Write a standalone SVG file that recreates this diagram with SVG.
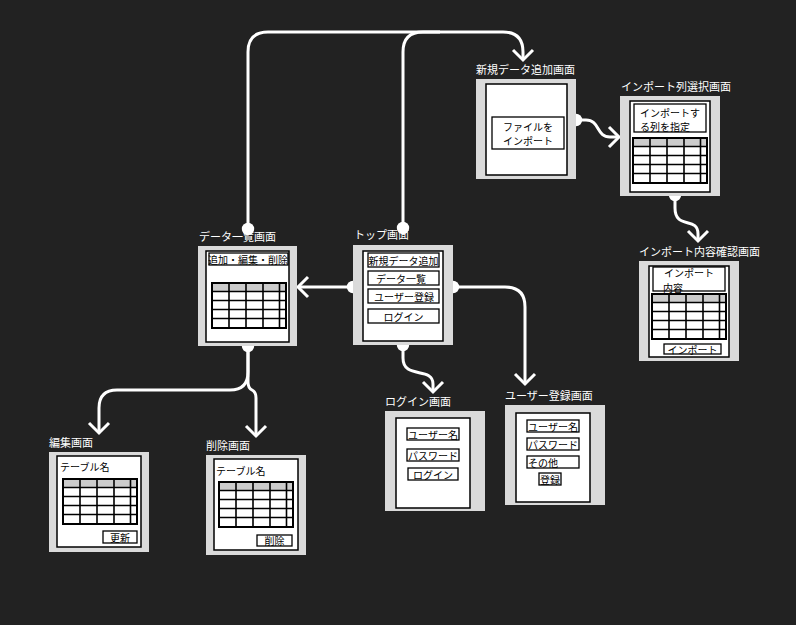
<svg xmlns="http://www.w3.org/2000/svg" width="796" height="625" viewBox="0 0 796 625">
<defs>
<style>
.bg{fill:#222222}
.outer{fill:#dadada}
.inner{fill:#ffffff;stroke:#000;stroke-width:1.5}
.btn{fill:#ffffff;stroke:#000;stroke-width:1.3}
.lbl{fill:#ffffff;font-family:"Noto Sans CJK JP","Noto Sans",sans-serif;font-size:11px;dominant-baseline:central}
.t{fill:#000;font-family:"Noto Sans CJK JP","Noto Sans",sans-serif;font-size:10px;dominant-baseline:central}
.c{text-anchor:middle}
.conn{fill:none;stroke:#ffffff;stroke-width:3;stroke-linejoin:round}
.dot{fill:#ffffff}
.hd{fill:#cccccc}
.grid{fill:none;stroke:#000;stroke-width:1.6}
</style>
<marker id="arr" markerUnits="userSpaceOnUse" markerWidth="30" markerHeight="30" viewBox="-15 -15 30 30" refX="0" refY="0" orient="auto">
<path d="M-10,-10 L0,0 L-10,10" fill="none" stroke="#ffffff" stroke-width="3" stroke-linejoin="miter"/>
</marker>
<g id="table">
<rect x="0" y="0" width="74" height="45" fill="#ffffff"/>
<rect x="0" y="0" width="74" height="8.5" class="hd"/>
<path class="grid" d="M0,8.5H74M0,17.5H74M0,26.5H74M0,35.5H74M17,0V45M34,0V45M51,0V45M67.5,0V45"/>
<rect x="0" y="0" width="74" height="45" fill="none" stroke="#000" stroke-width="2"/>
</g>
</defs>
<rect class="bg" x="0" y="0" width="796" height="625"/>

<g id="connectors">
<path class="conn" d="M248,228 V52 Q248,32 268,32 H503 Q523,32 523,52 V60" marker-end="url(#arr)"/>
<path class="conn" d="M403,228 V52 Q403,32 423,32 H440"/>
<path class="conn" d="M353,287 H298" marker-end="url(#arr)"/>
<path class="conn" d="M403,345 V358 C403,380 433,366 433,384 V392" marker-end="url(#arr)"/>
<path class="conn" d="M453,287 H505 Q525,287 525,307 V384" marker-end="url(#arr)"/>
<path class="conn" d="M576,120 H586 C600,120 596,137 610,137 H619" marker-end="url(#arr)"/>
<path class="conn" d="M675,195 V208 C675,230 698,216 698,234 V241" marker-end="url(#arr)"/>
<path class="conn" d="M248,346 V372 Q248,390 230,390 H117 Q99,390 99,408 V433" marker-end="url(#arr)"/>
<path class="conn" d="M248,346 V382 Q248,388 252,390 Q256,392 256,398 V436" marker-end="url(#arr)"/>
<circle class="dot" cx="248" cy="229" r="6.2"/>
<circle class="dot" cx="403" cy="228" r="6.2"/>
<circle class="dot" cx="353" cy="287" r="6.2"/>
<circle class="dot" cx="453" cy="287" r="6.2"/>
<circle class="dot" cx="403" cy="345" r="6.2"/>
<circle class="dot" cx="248" cy="346" r="6.2"/>
<circle class="dot" cx="576" cy="120" r="6.2"/>
<circle class="dot" cx="675" cy="195" r="6.2"/>
</g>

<g id="top-screen">
<text class="lbl" x="354" y="234">トップ画面</text>
<rect class="outer" x="353" y="245" width="100" height="100"/>
<rect class="inner" x="363" y="251" width="80" height="90"/>
<rect class="btn" x="368" y="253" width="71" height="14"/>
<text class="t c" x="403.5" y="260">新規データ追加</text>
<rect class="btn" x="368" y="271" width="71" height="14"/>
<text class="t c" x="401" y="278">データ一覧</text>
<rect class="btn" x="368" y="289" width="71" height="14"/>
<text class="t c" x="404" y="296">ユーザー登録</text>
<rect class="btn" x="368" y="309" width="71" height="14"/>
<text class="t c" x="403.5" y="316">ログイン</text>
</g>

<g id="data-list-screen">
<text class="lbl" x="199" y="236">データ一覧画面</text>
<rect class="outer" x="198" y="246" width="99" height="100"/>
<rect class="inner" x="206" y="251" width="83" height="91"/>
<rect class="btn" x="209" y="253" width="79" height="12"/>
<text class="t c" x="248" y="259.5">追加・編集・削除</text>
<use href="#table" x="212" y="283"/>
</g>

<g id="new-data-screen">
<text class="lbl" x="476" y="69">新規データ追加画面</text>
<rect class="outer" x="476" y="79" width="100" height="100"/>
<rect class="inner" x="486" y="84" width="81" height="91"/>
<rect class="btn" x="492" y="117" width="72" height="32"/>
<text class="t c" x="528" y="125.5"><tspan x="528" y="125.5">ファイルを</tspan><tspan x="528" y="140">インポート</tspan></text>
</g>

<g id="import-column-screen">
<text class="lbl" x="621" y="86">インポート列選択画面</text>
<rect class="outer" x="620" y="96" width="100" height="100"/>
<rect class="inner" x="630" y="101" width="80" height="91"/>
<rect class="btn" x="634" y="104" width="72" height="28"/>
<text class="t" x="640" y="111.5"><tspan x="640" y="111.5">インポートす</tspan><tspan x="640" y="126">る列を指定</tspan></text>
<use href="#table" x="633" y="138"/>
</g>

<g id="import-confirm-screen">
<text class="lbl" x="639" y="251">インポート内容確認画面</text>
<rect class="outer" x="639" y="261" width="100" height="100"/>
<rect class="inner" x="649" y="266" width="80" height="91"/>
<rect class="btn" x="653" y="267" width="72" height="24"/>
<text class="t" x="664" y="272"><tspan x="664" y="272">インポート</tspan><tspan x="663" y="286.5">内容</tspan></text>
<use href="#table" x="652" y="294"/>
<rect class="btn" x="664" y="344" width="57" height="10"/>
<text class="t c" x="692.5" y="349">インポート</text>
</g>

<g id="edit-screen">
<text class="lbl" x="49" y="441.5">編集画面</text>
<rect class="outer" x="49" y="452" width="100" height="100"/>
<rect class="inner" x="57" y="456" width="84" height="91"/>
<text class="t" x="60" y="466.5">テーブル名</text>
<use href="#table" x="63" y="479"/>
<rect class="btn" x="103" y="531" width="34" height="12"/>
<text class="t c" x="120" y="537">更新</text>
</g>

<g id="delete-screen">
<text class="lbl" x="206" y="445">削除画面</text>
<rect class="outer" x="206" y="455" width="100" height="100"/>
<rect class="inner" x="214" y="459" width="84" height="91"/>
<text class="t" x="216" y="470">テーブル名</text>
<use href="#table" x="219" y="482"/>
<rect class="btn" x="257" y="535" width="35" height="11"/>
<text class="t c" x="274.5" y="540.5">削除</text>
</g>

<g id="login-screen">
<text class="lbl" x="385" y="401">ログイン画面</text>
<rect class="outer" x="385" y="411" width="100" height="100"/>
<rect class="inner" x="396" y="418" width="74" height="90"/>
<rect class="btn" x="407" y="428" width="52" height="12"/>
<text class="t c" x="433" y="434">ユーザー名</text>
<rect class="btn" x="407" y="449" width="52" height="12"/>
<text class="t c" x="433" y="455">パスワード</text>
<rect class="btn" x="408" y="468" width="50" height="12"/>
<text class="t c" x="433" y="474">ログイン</text>
</g>

<g id="user-register-screen">
<text class="lbl" x="505" y="395">ユーザー登録画面</text>
<rect class="outer" x="505" y="405" width="100" height="100"/>
<rect class="inner" x="516" y="413" width="74" height="89"/>
<rect class="btn" x="527" y="420" width="52" height="12"/>
<text class="t c" x="553" y="426">ユーザー名</text>
<rect class="btn" x="527" y="438" width="52" height="12"/>
<text class="t c" x="553" y="444">パスワード</text>
<rect class="btn" x="527" y="456" width="52" height="12"/>
<text class="t" x="528" y="462">その他</text>
<rect class="btn" x="539" y="473" width="22" height="12"/>
<text class="t c" x="550" y="479">登録</text>
</g>
</svg>
